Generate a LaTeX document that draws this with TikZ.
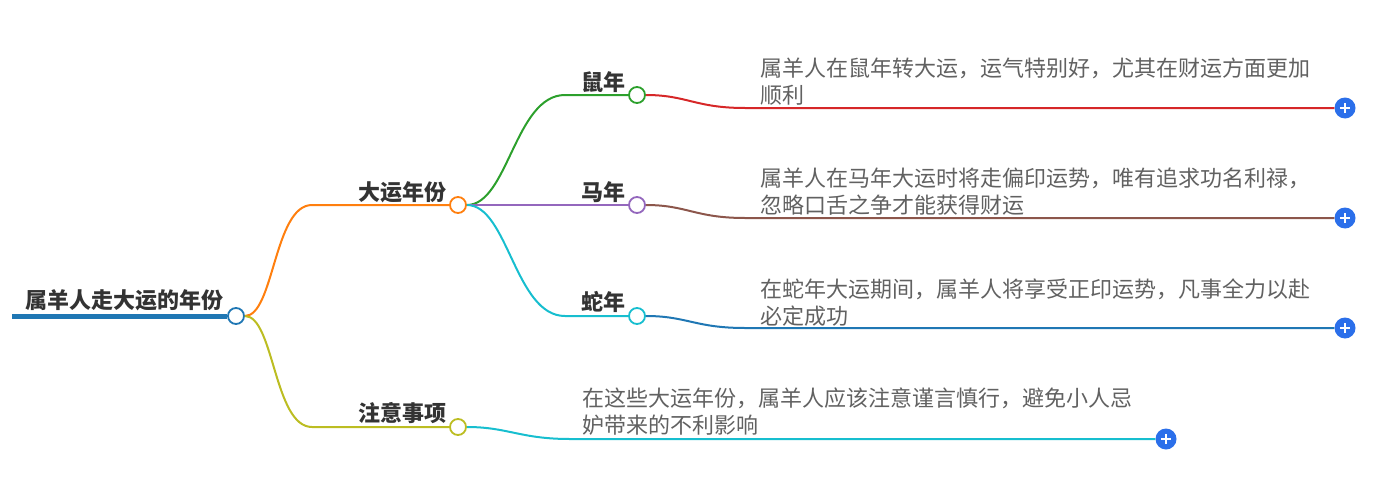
\documentclass[tikz,border=0pt]{standalone}
\usepackage{fontspec}
\setmainfont{Noto Sans CJK SC}
\usetikzlibrary{positioning}
\definecolor{tabblue}{HTML}{1F77B4}
\definecolor{taborange}{HTML}{FF7F0E}
\definecolor{tabgreen}{HTML}{2CA02C}
\definecolor{tabred}{HTML}{D62728}
\definecolor{tabpurple}{HTML}{9467BD}
\definecolor{tabbrown}{HTML}{8C564B}
\definecolor{tabcyan}{HTML}{17BECF}
\definecolor{tabolive}{HTML}{BCBD22}
\definecolor{plusblue}{HTML}{2B6FEA}

\begin{document}
\begin{tikzpicture}[x=1pt, y=-1pt,
    dot/.style={draw=#1, circle, fill=white, line width=1.8pt, minimum size=16pt, inner sep=0pt},
    topic/.style={font=\fontsize{22}{26}\selectfont\bfseries, text=black!80, inner sep=0pt},
    note/.style={font=\fontsize{22}{27}\selectfont, text=black!62, align=left, inner sep=0pt, anchor=north west},
    edge/.style={line width=2pt},
    plus/.style={circle, fill=plusblue, minimum size=21pt, inner sep=0pt,
      path picture={\draw[white, line width=2.2pt]
        ([xshift=-5pt]path picture bounding box.center) -- ([xshift=5pt]path picture bounding box.center)
        ([yshift=-5pt]path picture bounding box.center) -- ([yshift=5pt]path picture bounding box.center);}}
  ]
  \useasboundingbox (0,0) rectangle (1380,479);

  % Nodes
  \coordinate (start) at (12,316);
  \node[dot=tabblue] (root) at (236,316) {};
  \node[topic] (roott) at (124,300) {属羊人走大运的年份};

  \node[dot=taborange] (dy) at (458,205) {};
  \node[topic, anchor=east] (dyt) at (447,192) {大运年份};
  \node[dot=tabolive] (zy) at (458,427) {};
  \node[topic, anchor=east] (zyt) at (447,413) {注意事项};

  \node[dot=tabgreen] (shu) at (637,95) {};
  \node[topic, anchor=east] (shut) at (626,82) {鼠年};
  \node[dot=tabpurple] (ma) at (637,205) {};
  \node[topic, anchor=east] (mat) at (626,192) {马年};
  \node[dot=tabcyan] (she) at (637,316) {};
  \node[topic, anchor=east] (shet) at (626,302) {蛇年};

  \node[note] (shun) at (760,58) {属羊人在鼠年转大运，运气特别好，尤其在财运方面更加\\顺利};
  \node[note] (man) at (760,168) {属羊人在马年大运时将走偏印运势，唯有追求功名利禄，\\忽略口舌之争才能获得财运};
  \node[note] (shen) at (760,279) {在蛇年大运期间，属羊人将享受正印运势，凡事全力以赴\\必定成功};
  \node[note] (zyn) at (582,388) {在这些大运年份，属羊人应该注意谨言慎行，避免小人忌\\妒带来的不利影响};

  \node[plus] (p1) at (1345,108) {};
  \node[plus] (p2) at (1345,218) {};
  \node[plus] (p3) at (1345,328) {};
  \node[plus] (p4) at (1166,439) {};

  \coordinate (dya) at (312,205);
  \coordinate (zya) at (312,427);
  \coordinate (shua) at (565,95);
  \coordinate (shea) at (565,316);
  \coordinate (shub) at (745,108);
  \coordinate (mab) at (745,218);
  \coordinate (sheb) at (745,328);
  \coordinate (zyb) at (570,439);

  % Connections
  \draw[tabblue, line width=5pt] (start) -- (root);
  \draw[edge, taborange] (root) .. controls +(38,0) and +(-38,0) .. (dya) -- (dy);
  \draw[edge, tabolive] (root) .. controls +(38,0) and +(-38,0) .. (zya) -- (zy);
  \draw[edge, tabgreen] (dy) .. controls +(50,0) and +(-50,0) .. (shua) -- (shu);
  \draw[edge, tabpurple] (dy) -- (ma);
  \draw[edge, tabcyan] (dy) .. controls +(50,0) and +(-50,0) .. (shea) -- (she);
  \draw[edge, tabred] (shu) .. controls +(50,0) and +(-50,0) .. (shub) -- (p1);
  \draw[edge, tabbrown] (ma) .. controls +(50,0) and +(-50,0) .. (mab) -- (p2);
  \draw[edge, tabblue] (she) .. controls +(50,0) and +(-50,0) .. (sheb) -- (p3);
  \draw[edge, tabcyan] (zy) .. controls +(50,0) and +(-50,0) .. (zyb) -- (p4);
\end{tikzpicture}
\end{document}
